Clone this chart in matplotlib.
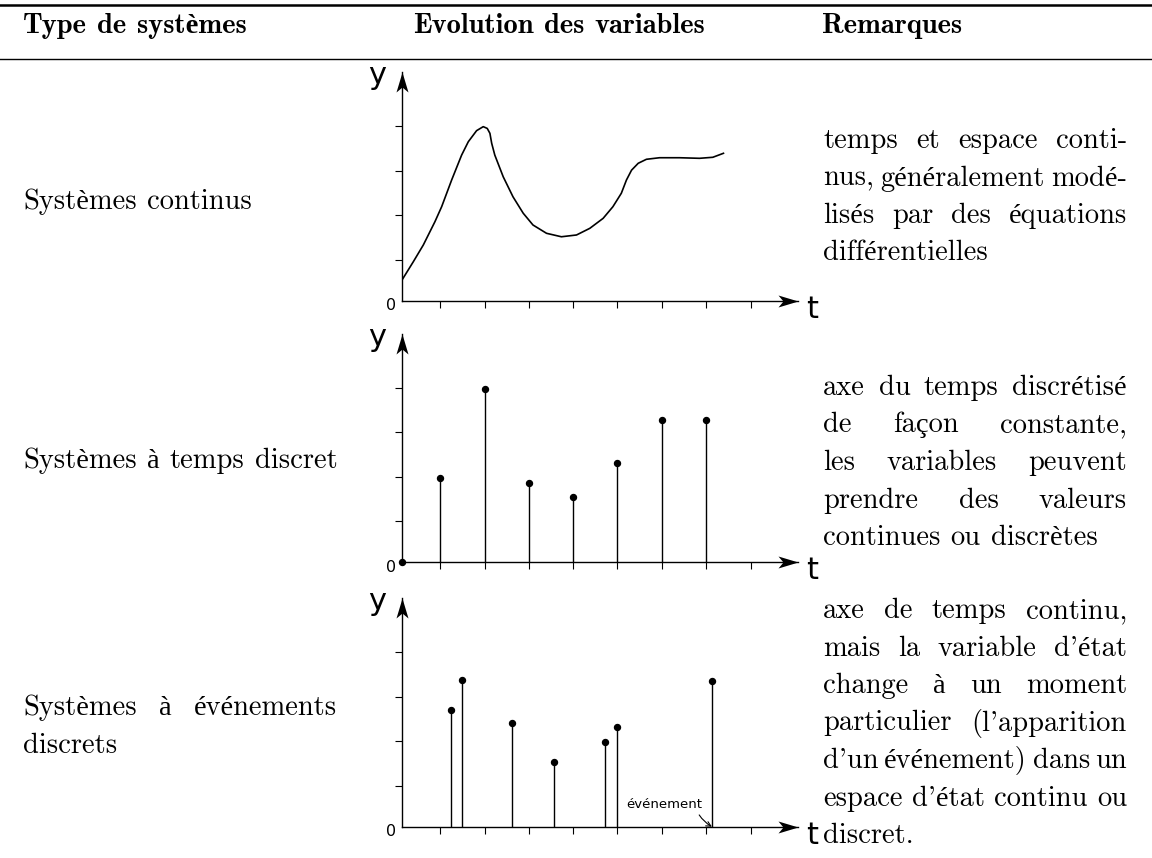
import matplotlib
matplotlib.use('Agg')
import matplotlib.pyplot as plt
from matplotlib.path import Path
from matplotlib.lines import Line2D
from matplotlib.transforms import IdentityTransform

W, H = 1152, 858

# table text
header = ['Type de systèmes', 'Evolution des variables', 'Remarques']
row_names = [['Systèmes continus'],
             ['Systèmes à temps discret'],
             ['Systèmes à événements', 'discrets']]
remarks = [['temps et espace conti-', 'nus, généralement modé-',
            'lisés par des équations', 'différentielles'],
           ['axe du temps discrétisé', 'de façon constante,',
            'les variables peuvent', 'prendre des valeurs',
            'continues ou discrètes'],
           ['axe de temps continu,', "mais la variable d'état",
            'change à un moment', "particulier (l'apparition",
            "d'un événement) dans un", "espace d'état continu ou",
            'discret.']]

# continuous system curve
cont_t = [0, 0.255, 0.48, 0.742, 0.893, 1.118, 1.343, 1.493, 1.68, 1.83, 1.92,
          1.98, 2.02, 2.09, 2.28, 2.50, 2.73, 2.95, 3.255, 3.59, 3.93, 4.23,
          4.53, 4.75, 4.94, 5.055, 5.17, 5.32, 5.505, 5.80, 6.25, 6.70, 7.00, 7.24]
cont_y = [0.466, 0.878, 1.255, 1.78, 2.117, 2.718, 3.28, 3.58, 3.83, 3.92, 3.88,
          3.77, 3.545, 3.28, 2.79, 2.34, 1.97, 1.705, 1.518, 1.44, 1.48, 1.63,
          1.855, 2.117, 2.42, 2.718, 2.94, 3.095, 3.185, 3.22, 3.22, 3.207, 3.23, 3.32]

# discrete time samples
disc_t = [0, 0.855, 1.86, 2.86, 3.85, 4.85, 5.85, 6.85]
disc_y = [0, 1.905, 3.896, 1.786, 1.464, 2.23, 3.205, 3.205]

# discrete events
event_t = [1.10, 1.35, 2.47, 3.43, 4.58, 4.85, 6.98]
event_y = [2.63, 3.30, 2.34, 1.46, 1.90, 2.25, 3.29]

tick_t = [0.855, 1.86, 2.86, 3.85, 4.85, 5.85, 6.85, 7.86]
tick_y = [0.92, 1.92, 2.93, 3.93]

# layout (pixels)
TXT = 20.5
origin_x = 402
unit = 44.4
origins_y = [300.7, 562.3, 826.7]
x_end = 8.92
y_end = 5.14
left_x, left_r = 23, 337
rem_x, rem_r = 823, 1127
name_base = [[209], [468], [715, 753]]
rem_base = [[148, 185.5, 223, 260.5],
            [395, 432.5, 470, 507.5, 545],
            [618, 655.5, 693, 730.5, 768, 805.5, 843]]

fig = plt.figure(figsize=(W / 100, H / 100), dpi=100)
renderer = fig.canvas.get_renderer()


def place_line(line, x0, y, right=None, bold=False):
    kw = dict(fontsize=TXT, va='baseline', ha='left', transform=IdentityTransform())
    if bold:
        kw.update(family=['cmb10', 'Liberation Serif'], weight='bold')
    else:
        kw.update(family=['cmr10', 'Liberation Serif'])
    words = line.split(' ')
    arts = [fig.text(0, 0, w, **kw) for w in words]
    widths = [a.get_window_extent(renderer).width for a in arts]
    if right is not None and len(words) > 1:
        gap = (right - x0 - sum(widths)) / (len(words) - 1)
    else:
        gap = 0.36 * TXT / 0.72
    x = x0
    for a, w in zip(arts, widths):
        a.set_position((x, H - y))
        x += w + gap


def place_par(lines, x0, bases, right):
    for i, (ln, b) in enumerate(zip(lines, bases)):
        place_line(ln, x0, b, right if i < len(lines) - 1 else None)


# rules
fig.add_artist(Line2D([0, 1], [1 - 5 / H] * 2, transform=fig.transFigure, color='k', lw=1.8))
fig.add_artist(Line2D([0, 1], [1 - 59.3 / H] * 2, transform=fig.transFigure, color='k', lw=1.0))

for txt, x in zip(header, [23, 413, 822]):
    place_line(txt, x, 33.3, bold=True)

for i in range(3):
    place_par(row_names[i], left_x, name_base[i], left_r)
    place_par(remarks[i], rem_x, rem_base[i], rem_r)

# arrow heads (pixel units, tip at origin)
arr_x = Path([(0, 0), (-20, 6), (-15, 0), (-20, -6), (0, 0)],
             [Path.MOVETO, Path.LINETO, Path.LINETO, Path.LINETO, Path.CLOSEPOLY])
arr_y = Path([(0, 0), (6, -20), (0, -15), (-6, -20), (0, 0)],
             [Path.MOVETO, Path.LINETO, Path.LINETO, Path.LINETO, Path.CLOSEPOLY])

axes = []
for oy in origins_y:
    ax = fig.add_axes([origin_x / W, (H - oy) / H, x_end * unit / W, y_end * unit / H])
    ax.set_xlim(0, x_end)
    ax.set_ylim(0, y_end)
    ax.patch.set_visible(False)
    for s in ['top', 'right']:
        ax.spines[s].set_visible(False)
    for s in ['left', 'bottom']:
        ax.spines[s].set_linewidth(1.0)
    ax.set_xticks(tick_t)
    ax.set_yticks(tick_y)
    ax.tick_params(direction='out', length=5.2, width=0.8, labelbottom=False, labelleft=False)
    ax.plot([x_end], [0], marker=arr_x, ms=28.8, mew=0, color='k', clip_on=False)
    ax.plot([0], [y_end], marker=arr_y, ms=28.8, mew=0, color='k', clip_on=False)
    ax.annotate('t', xy=(x_end, 0), xytext=(8 * 0.72, -17 * 0.72), textcoords='offset points',
                fontsize=22, family='DejaVu Sans', ha='left', va='baseline')
    ax.annotate('y', xy=(0, y_end), xytext=(-16 * 0.72, -12 * 0.72), textcoords='offset points',
                fontsize=22, family='DejaVu Sans', ha='right', va='baseline')
    ax.annotate('0', xy=(0, 0), xytext=(-11 * 0.72, -5 * 0.72), textcoords='offset points',
                fontsize=11.5, family='DejaVu Sans', ha='center', va='center')
    axes.append(ax)

ax0, ax1, ax2 = axes
ax0.plot(cont_t, cont_y, color='k', lw=1.2, solid_joinstyle='round')

ax1.vlines(disc_t, 0, disc_y, color='k', lw=1.0)
ax1.plot(disc_t, disc_y, 'o', ms=4.3, color='k', clip_on=False)

ax2.vlines(event_t, 0, event_y, color='k', lw=1.0)
ax2.plot(event_t, event_y, 'o', ms=4.3, color='k', clip_on=False)
ax2.annotate('événement', xy=(event_t[-1], 0), xytext=(-85.7 * 0.72, 18.7 * 0.72),
             textcoords='offset points', fontsize=9.5, family='DejaVu Sans',
             ha='left', va='baseline',
             arrowprops=dict(arrowstyle='->,head_length=0.35,head_width=0.18', lw=0.8,
                             color='k', relpos=(0.93, 0.0), shrinkA=1, shrinkB=0,
                             connectionstyle='arc3,rad=0.15'))

fig.savefig('out.png', dpi=100)
